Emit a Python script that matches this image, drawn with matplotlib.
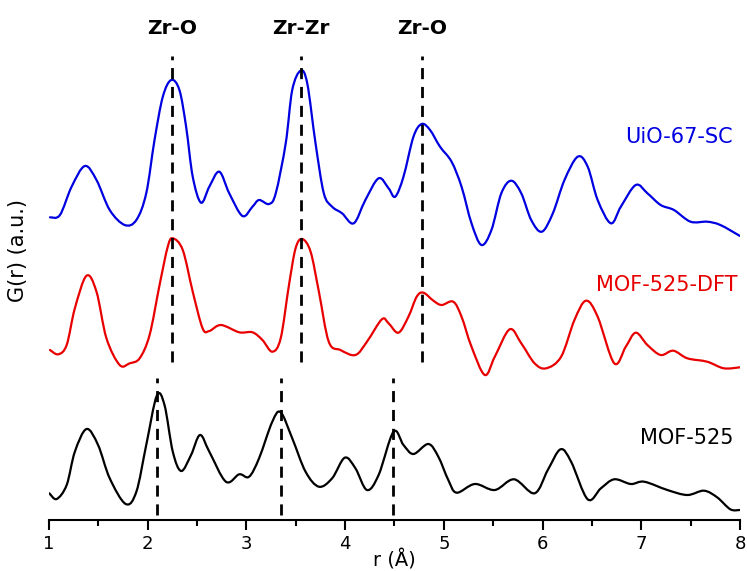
import matplotlib
matplotlib.use("Agg")
import matplotlib.pyplot as plt
from matplotlib.ticker import MultipleLocator
from matplotlib.path import Path
from matplotlib.patches import PathPatch

plt.rcParams['font.family'] = ['DejaVu Sans']

# ---- data (r in Angstrom, G(r) in a.u., vertically offset as plotted) ----
r_uio = [1.010, 1.111, 1.229, 1.363, 1.481, 1.615, 1.767, 1.885, 1.985, 2.069,
         2.153, 2.238, 2.321, 2.389, 2.456, 2.540, 2.624, 2.725, 2.826, 2.960,
         3.061, 3.128, 3.229, 3.297, 3.398, 3.464, 3.549, 3.616, 3.700, 3.784,
         3.868, 3.969, 4.087, 4.205, 4.339, 4.440, 4.507, 4.591, 4.692, 4.776,
         4.860, 4.961, 5.078, 5.179, 5.280, 5.381, 5.482, 5.582, 5.683, 5.784,
         5.885, 5.993, 6.104, 6.222, 6.356, 6.457, 6.558, 6.692, 6.793, 6.944,
         7.062, 7.196, 7.331, 7.499, 7.667, 7.801, 8.000]
g_uio = [3.027, 3.050, 3.333, 3.540, 3.400, 3.100, 2.950, 3.000, 3.267, 3.800,
         4.233, 4.400, 4.300, 3.933, 3.433, 3.173, 3.333, 3.483, 3.267, 3.040,
         3.133, 3.200, 3.160, 3.267, 3.767, 4.300, 4.493, 4.367, 3.767, 3.267,
         3.133, 3.067, 2.967, 3.200, 3.417, 3.317, 3.233, 3.433, 3.833, 3.960,
         3.900, 3.733, 3.583, 3.333, 2.967, 2.750, 2.900, 3.267, 3.393, 3.267,
         3.000, 2.883, 3.067, 3.400, 3.633, 3.533, 3.200, 2.967, 3.133, 3.350,
         3.267, 3.150, 3.100, 2.983, 2.983, 2.950, 2.840]

r_dft = [1.010, 1.094, 1.179, 1.262, 1.380, 1.481, 1.582, 1.716, 1.817, 1.918,
         2.019, 2.120, 2.203, 2.254, 2.355, 2.456, 2.556, 2.624, 2.742, 2.927,
         3.061, 3.162, 3.262, 3.347, 3.431, 3.498, 3.565, 3.650, 3.734, 3.834,
         3.952, 4.104, 4.221, 4.372, 4.440, 4.540, 4.641, 4.725, 4.793, 4.894,
         4.977, 5.095, 5.179, 5.280, 5.415, 5.516, 5.667, 5.784, 5.919, 6.036,
         6.188, 6.323, 6.440, 6.558, 6.726, 6.843, 6.944, 7.062, 7.196, 7.324,
         7.466, 7.667, 7.836, 8.000]
g_dft = [1.700, 1.657, 1.750, 2.117, 2.443, 2.283, 1.817, 1.550, 1.567, 1.617,
         1.850, 2.350, 2.733, 2.817, 2.700, 2.283, 1.917, 1.890, 1.950, 1.877,
         1.877, 1.800, 1.683, 1.817, 2.350, 2.717, 2.810, 2.683, 2.283, 1.783,
         1.700, 1.650, 1.783, 2.007, 1.967, 1.873, 2.033, 2.233, 2.273, 2.193,
         2.150, 2.183, 2.033, 1.733, 1.450, 1.633, 1.907, 1.767, 1.567, 1.517,
         1.633, 2.000, 2.193, 2.033, 1.567, 1.733, 1.873, 1.750, 1.650, 1.693,
         1.617, 1.583, 1.517, 1.527]

r_mof = [1.003, 1.078, 1.179, 1.262, 1.380, 1.497, 1.615, 1.777, 1.885, 1.985,
         2.092, 2.170, 2.254, 2.339, 2.439, 2.530, 2.624, 2.792, 2.927, 3.027,
         3.128, 3.262, 3.347, 3.464, 3.599, 3.734, 3.868, 3.996, 4.104, 4.221,
         4.339, 4.490, 4.591, 4.692, 4.843, 4.944, 5.045, 5.129, 5.314, 5.516,
         5.711, 5.919, 6.053, 6.182, 6.289, 6.457, 6.591, 6.726, 6.894, 7.029,
         7.264, 7.466, 7.634, 7.768, 7.902, 7.997]
g_mof = [0.267, 0.210, 0.350, 0.683, 0.910, 0.750, 0.417, 0.160, 0.283, 0.750,
         1.243, 1.150, 0.683, 0.490, 0.650, 0.850, 0.683, 0.383, 0.457, 0.433,
         0.617, 0.983, 1.077, 0.817, 0.483, 0.333, 0.417, 0.623, 0.517, 0.300,
         0.450, 0.883, 0.750, 0.660, 0.760, 0.633, 0.400, 0.273, 0.360, 0.300,
         0.407, 0.267, 0.500, 0.707, 0.583, 0.207, 0.317, 0.407, 0.360, 0.383,
         0.300, 0.250, 0.293, 0.227, 0.107, 0.100]

series_names = ['UiO-67-SC', 'MOF-525-DFT', 'MOF-525']
series_colors = ['#0000e0', '#e80000', '#000000']

peak_labels = ['Zr-O', 'Zr-Zr', 'Zr-O']
peaks_upper = [2.245, 3.555, 4.775]
peaks_lower = [2.092, 3.347, 4.485]


def smooth_path(xs, ys):
    """Catmull-Rom curve through the measured points, drawn as Bezier segments."""
    pts = list(zip(xs, ys))
    n = len(pts)
    verts = [pts[0]]
    codes = [Path.MOVETO]
    for i in range(n - 1):
        p0 = pts[i - 1] if i > 0 else pts[i]
        p1 = pts[i]
        p2 = pts[i + 1]
        p3 = pts[i + 2] if i + 2 < n else pts[i + 1]
        c1 = (p1[0] + (p2[0] - p0[0]) / 6.0, p1[1] + (p2[1] - p0[1]) / 6.0)
        c2 = (p2[0] - (p3[0] - p1[0]) / 6.0, p2[1] - (p3[1] - p1[1]) / 6.0)
        verts += [c1, c2, p2]
        codes += [Path.CURVE4] * 3
    return Path(verts, codes)


# ---- figure ----
fig = plt.figure(figsize=(7.47, 5.71), dpi=100)
ax = fig.add_axes([49/747, 51/571, 691/747, 520/571])

for r, g, c in zip([r_uio, r_dft, r_mof], [g_uio, g_dft, g_mof], series_colors):
    ax.add_patch(PathPatch(smooth_path(r, g), facecolor='none', edgecolor=c,
                           lw=1.6, joinstyle='round', capstyle='round'))

for x in peaks_upper:
    ax.plot([x, x], [1.58, 4.64], color='black', lw=2.0, dashes=(4, 2.8))
for x in peaks_lower:
    ax.plot([x, x], [0.05, 1.42], color='black', lw=2.0, dashes=(4, 2.8))

for x, lab in zip(peaks_upper, peak_labels):
    ax.text(x, 4.92, lab, ha='center', va='center', fontsize=14.5, fontweight='bold')

label_pos = [(7.93, 3.83), (7.97, 2.35), (7.93, 0.82)]
for (x, y), name, c in zip(label_pos, series_names, series_colors):
    ax.text(x, y, name, ha='right', va='center', fontsize=15, color=c)

ax.set_xlim(1, 8)
ax.set_ylim(0, 5.2)
ax.xaxis.set_major_locator(MultipleLocator(1))
ax.xaxis.set_minor_locator(MultipleLocator(0.5))
ax.tick_params(axis='x', which='major', direction='out', length=7, width=1.5,
               labelsize=13, pad=4)
ax.tick_params(axis='x', which='minor', direction='out', length=4, width=1.5)
ax.set_yticks([])
for s in ['left', 'right', 'top']:
    ax.spines[s].set_visible(False)
ax.spines['bottom'].set_linewidth(1.5)
ax.patch.set_alpha(0)

ax.set_xlabel('r (Å)', fontsize=14, labelpad=-3)
fig.text(18/747, 1 - 250/571, 'G(r) (a.u.)', rotation=90, ha='center', va='center',
         fontsize=15)

fig.savefig('out.png', dpi=100)
